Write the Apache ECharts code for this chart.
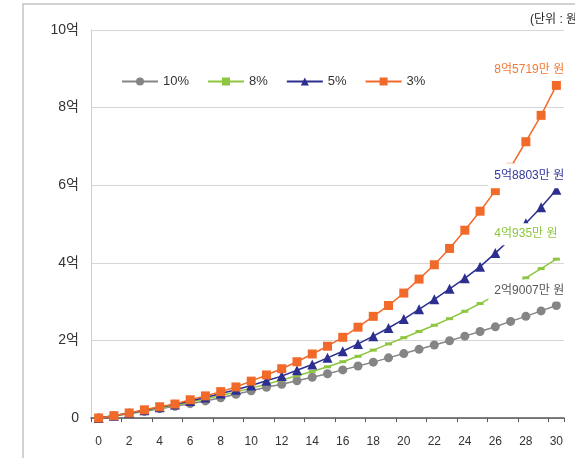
<!DOCTYPE html>
<html>
<head>
<meta charset="utf-8">
<script src="https://cdn.jsdelivr.net/npm/echarts@6/dist/echarts.min.js"></script>
<style>
html,body{margin:0;padding:0;background:#fff;}
#chart{width:575px;height:458px;}
</style>
</head>
<body>
<div id="chart"></div>
<script>
const categories = ['0','1','2','3','4','5','6','7','8','9','10','11','12','13','14','15','16','17','18','19','20','21','22','23','24','25','26','27','28','29','30'];
const seriesNames = ['10%', '8%', '5%', '3%'];
const rate10 = [0, 0.05, 0.11, 0.17, 0.24, 0.30, 0.37, 0.44, 0.52, 0.61, 0.70, 0.79, 0.87, 0.96, 1.05, 1.14, 1.24, 1.34, 1.44, 1.55, 1.66, 1.77, 1.88, 1.99, 2.11, 2.23, 2.35, 2.49, 2.62, 2.76, 2.9007];
const rate8  = [0, 0.06, 0.12, 0.19, 0.26, 0.33, 0.41, 0.49, 0.58, 0.67, 0.77, 0.87, 0.98, 1.09, 1.20, 1.32, 1.45, 1.59, 1.75, 1.91, 2.07, 2.23, 2.39, 2.56, 2.75, 2.95, 3.16, 3.38, 3.61, 3.85, 4.0935];
const rate5  = [0, 0.06, 0.13, 0.20, 0.28, 0.35, 0.44, 0.53, 0.63, 0.73, 0.84, 0.96, 1.08, 1.23, 1.38, 1.55, 1.72, 1.91, 2.11, 2.32, 2.55, 2.80, 3.06, 3.33, 3.60, 3.90, 4.25, 4.62, 5.02, 5.43, 5.8803];
const rate3  = [0, 0.06, 0.13, 0.21, 0.29, 0.36, 0.47, 0.57, 0.68, 0.80, 0.95, 1.11, 1.27, 1.45, 1.65, 1.85, 2.08, 2.34, 2.62, 2.90, 3.22, 3.58, 3.95, 4.37, 4.84, 5.33, 5.86, 6.46, 7.12, 7.80, 8.5719];
const yTickLabels = ['0', '2억', '4억', '6억', '8억', '10억'];
const endLabels = ['2억9007만 원', '4억935만 원', '5억8803만 원', '8억5719만 원'];
const unitText = '(단위 : 원)';

const FONT = "'Liberation Sans', 'Noto Sans CJK KR', sans-serif";
const colors = ['#858585', '#8dc63f', '#2c2f8f', '#f26a2a'];
const labelColors = ['#555555', '#8dc63f', '#33379a', '#f47a35'];
const symbols = ['circle', 'rect', 'triangle', 'rect'];
const symbolSizes = [9, [7, 3], 10, 9];
const allData = [rate10, rate8, rate5, rate3];
const labelOffsets = [[-68, -15], [-68, -25], [-68, -14], [-68, -16]];
const labelPaddings = [[5, 6], [5, 6], [8, 6, 5, 6], [5, 6]];

const chart = echarts.init(document.getElementById('chart'), null, {renderer: 'canvas'});

const lineSeries = allData.map((d, i) => ({
  name: seriesNames[i],
  type: 'line',
  data: d,
  symbol: symbols[i],
  symbolSize: symbolSizes[i],
  showAllSymbol: true,
  lineStyle: {color: colors[i], width: 1.5},
  itemStyle: {color: colors[i], borderWidth: 0},
  emphasis: {disabled: true},
  z: 2
}));

const last = categories.length - 1;
const labelSeries = {
  name: 'labels',
  type: 'scatter',
  symbolSize: 1,
  itemStyle: {color: 'rgba(0,0,0,0)', opacity: 1},
  z: 6,
  silent: true,
  emphasis: {disabled: true},
  data: allData.map((d, i) => ({
    value: [categories[last], d[last]],
    label: {
      show: true,
      position: 'inside',
      align: 'left',
      verticalAlign: 'middle',
      offset: labelOffsets[i],
      formatter: endLabels[i],
      color: labelColors[i],
      opacity: 1,
      fontSize: 12,
      fontFamily: FONT,
      backgroundColor: '#ffffff',
      padding: labelPaddings[i]
    }
  }))
};

chart.setOption({
  animation: false,
  backgroundColor: '#ffffff',
  textStyle: {fontFamily: FONT},
  grid: {left: 91, right: 11, top: 30, bottom: 40, containLabel: false},
  legend: {
    data: seriesNames,
    left: 116,
    top: 70,
    itemWidth: 36,
    itemHeight: 10,
    itemGap: 18,
    textStyle: {fontSize: 13, color: '#333', fontFamily: FONT}
  },
  xAxis: {
    type: 'category',
    data: categories,
    boundaryGap: true,
    axisLine: {show: true, lineStyle: {color: '#555', width: 1.5}},
    axisTick: {show: true, interval: 1, length: 4, lineStyle: {color: '#555'}},
    axisLabel: {interval: 1, fontSize: 12, color: '#333', margin: 18, fontFamily: FONT},
    splitLine: {show: false}
  },
  yAxis: {
    type: 'value',
    min: 0,
    max: 10,
    interval: 2,
    axisLine: {show: true, lineStyle: {color: '#cfcfcf', width: 1}},
    axisTick: {show: false},
    axisLabel: {
      fontSize: 14,
      color: '#333',
      margin: 12,
      fontFamily: FONT,
      formatter: v => yTickLabels[Math.round(v / 2)]
    },
    splitLine: {show: true, lineStyle: {color: '#d6d6d6', width: 1}}
  },
  graphic: [
    {
      type: 'rect',
      shape: {x: 23, y: 4, width: 700, height: 600},
      style: {fill: 'none', stroke: '#c4c4c4', lineWidth: 1.5},
      z: 0,
      silent: true
    },
    {
      type: 'text',
      left: 530,
      top: 14,
      style: {text: unitText, fontSize: 12, fill: '#222', fontFamily: FONT},
      silent: true
    }
  ],
  series: lineSeries.concat([labelSeries])
});
</script>
</body>
</html>
